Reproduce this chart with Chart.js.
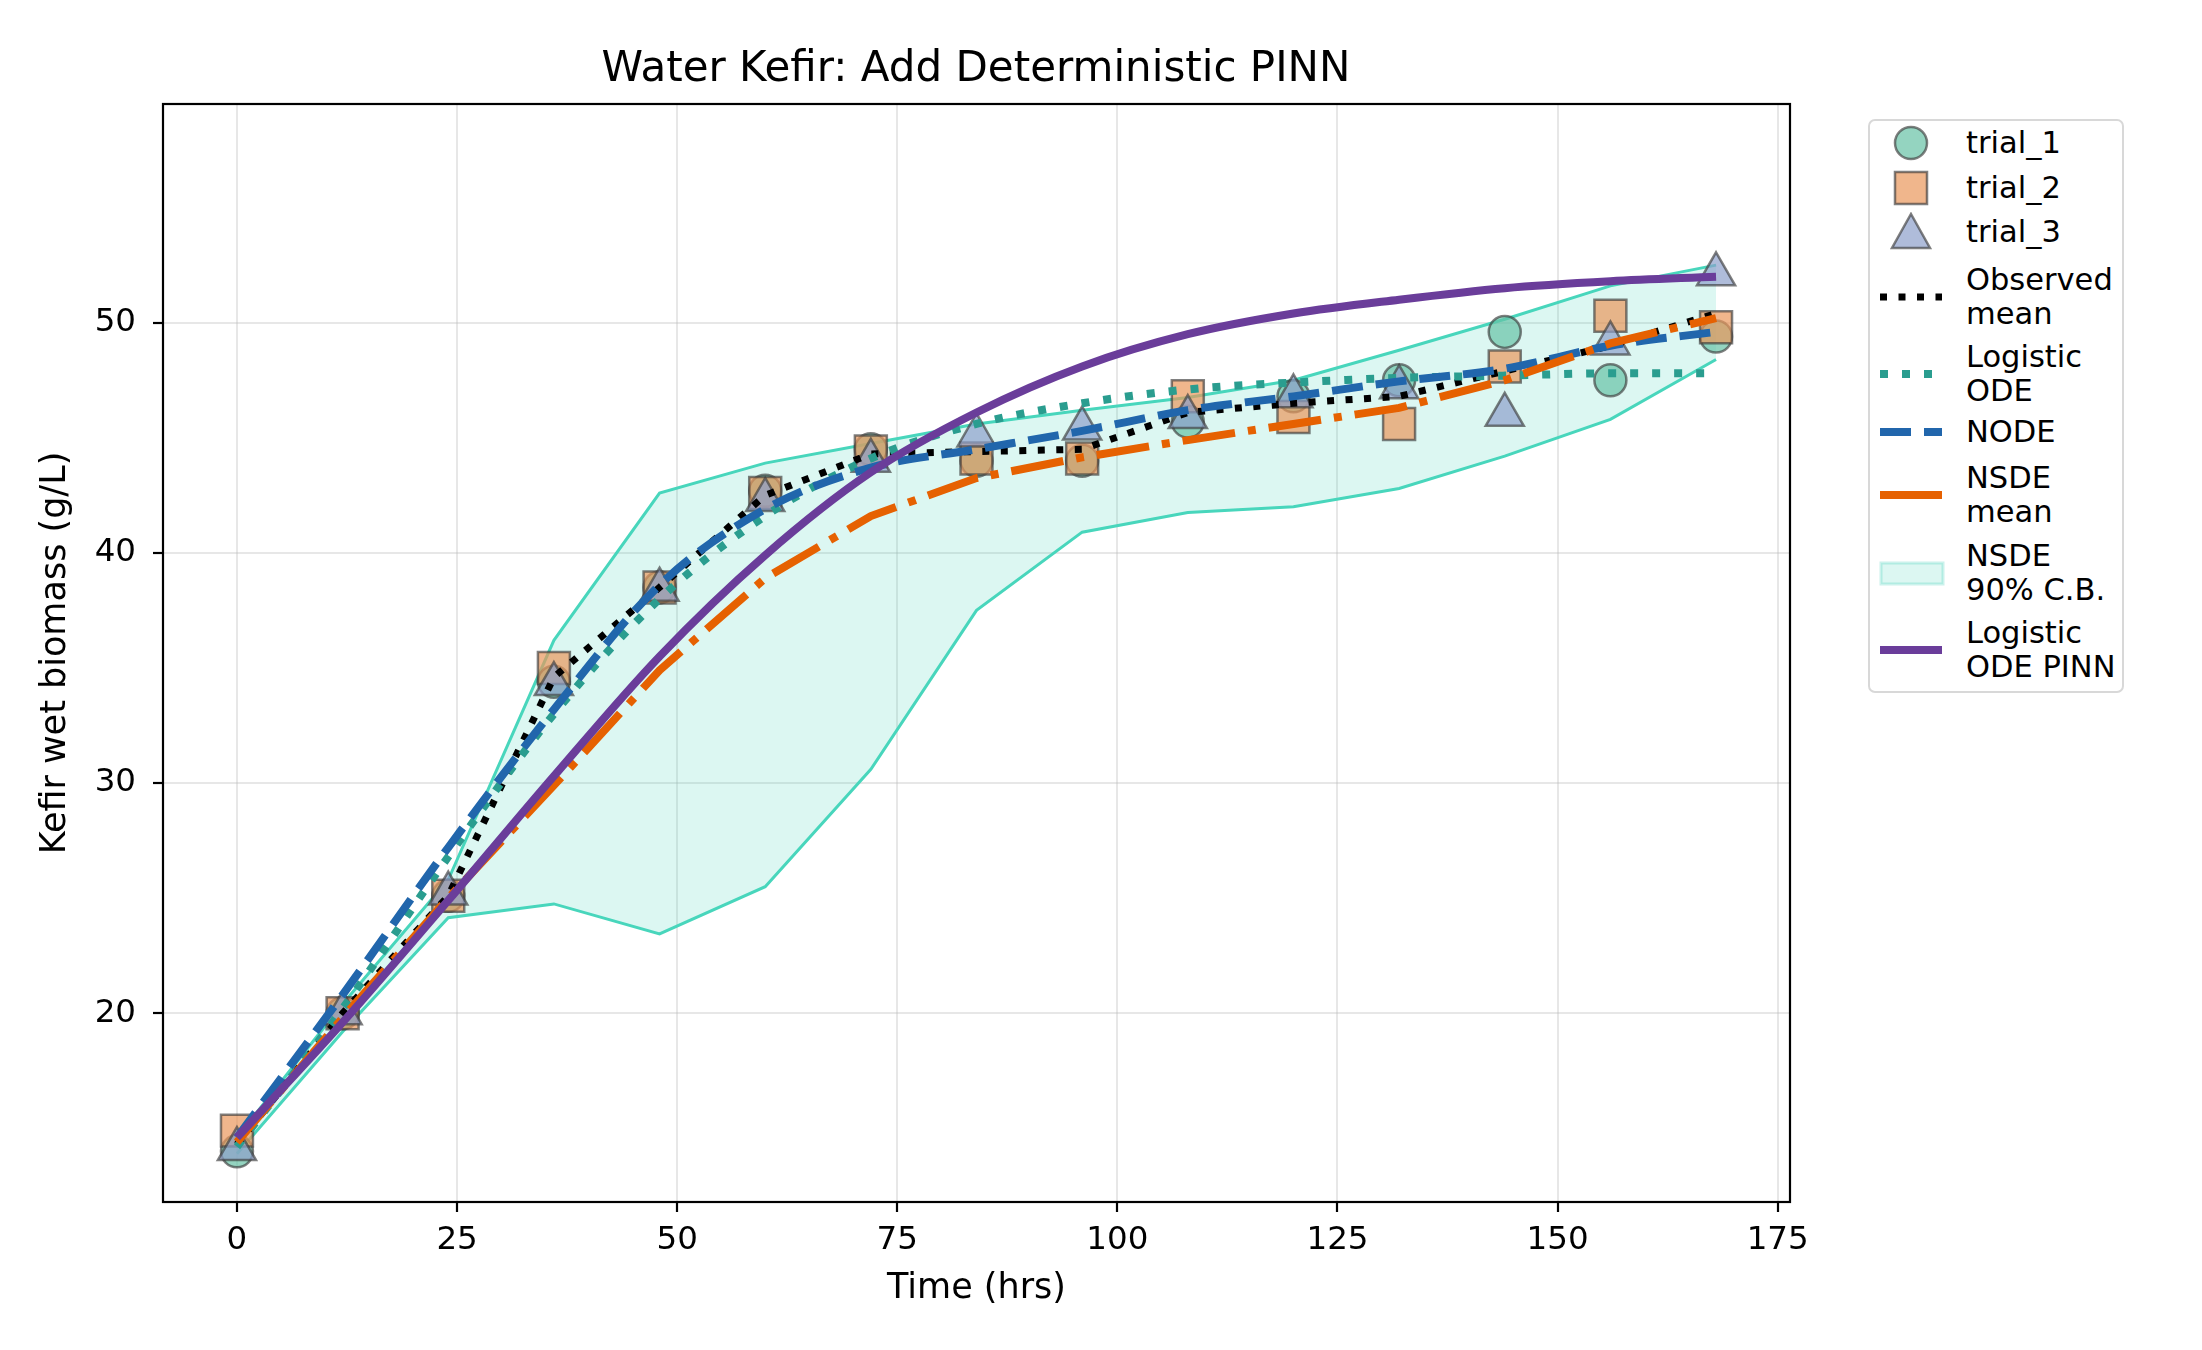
<!DOCTYPE html>
<html>
<head>
<meta charset="utf-8">
<title>Water Kefir: Add Deterministic PINN</title>
<script src="https://cdn.jsdelivr.net/npm/chart.js@4.4.1/dist/chart.umd.min.js"></script>
<style>
    body { margin: 0; background: #fff; }
    #wrap { position: relative; width: 2202px; height: 1350px; font-family: "DejaVu Sans", sans-serif; color: #000; }
    #chart { position: absolute; left: 0; top: 0; }
    #title { position: absolute; left: 0; width: 1952px; top: 42px; text-align: center; font-size: 42px; line-height: 50px; }
    #legend { position: absolute; left: 1868px; top: 119px; width: 256px; height: 574px; box-sizing: border-box;
              border: 2px solid #d8d8d8; border-radius: 7px; background: #fff; }
    .sym { position: absolute; left: 0; }
    .txt { position: absolute; left: 96px; font-size: 30.5px; line-height: 34px; white-space: nowrap; }
</style>
</head>
<body>
<div id="wrap">
    <canvas id="chart" width="2202" height="1350"></canvas>
    <div id="title">Water Kefir: Add Deterministic PINN</div>
    <div id="legend"></div>
</div>
<script>
// data
const times = [0, 12, 24, 36, 48, 60, 72, 84, 96, 108, 120, 132, 144, 156, 168];

const trial1 = [14.0, 20.0, 25.1, 34.4, 38.5, 42.7, 44.5, 44.0, 44.0, 45.7, 46.8, 47.5, 49.6, 47.5, 49.4];
const trial2 = [14.9, 20.0, 25.1, 35.0, 38.5, 42.6, 44.4, 44.1, 44.1, 46.8, 45.9, 45.6, 48.1, 50.3, 49.8];
const trial3 = [14.1, 20.0, 25.2, 34.3, 38.4, 42.3, 44.0, 45.1, 45.4, 45.9, 46.8, 47.2, 46.0, 49.1, 52.1];

const observedMean = [14.3, 20.0, 25.1, 34.6, 38.5, 42.5, 44.3, 44.4, 44.5, 46.1, 46.5, 46.8, 47.9, 49.0, 50.4];
const logisticOde = [14.2, 20.2, 26.8, 33.0, 38.0, 41.6, 44.1, 45.6, 46.5, 47.1, 47.4, 47.6, 47.7, 47.8, 47.8];
const nodeFit = [14.6, 20.8, 27.2, 33.2, 38.6, 41.9, 43.7, 44.5, 45.3, 46.2, 46.8, 47.45, 48.0, 49.0, 49.6];
const nsdeMean = [14.4, 19.8, 25.0, 29.9, 34.9, 38.9, 41.6, 43.25, 44.15, 44.9, 45.6, 46.3, 47.5, 49.1, 50.2];
const nsdeLower = [13.9, 19.2, 24.15, 24.75, 23.45, 25.5, 30.6, 37.5, 40.9, 41.75, 42.0, 42.8, 44.2, 45.8, 48.4];
const nsdeUpper = [14.6, 20.4, 25.8, 36.2, 42.6, 43.9, 44.75, 45.6, 46.2, 46.75, 47.5, 48.8, 50.15, 51.6, 52.5];
const pinnFit = [14.6, 19.6, 24.9, 30.3, 35.5, 39.9, 43.5, 46.1, 48.1, 49.5, 50.4, 51.0, 51.5, 51.8, 52.0];

const xTicks = [0, 25, 50, 75, 100, 125, 150, 175];
const yTicks = [20, 30, 40, 50];

// colours
const c1 = "rgba(102,194,165,0.7)";
const c2 = "rgba(234,151,91,0.7)";
const c3 = "rgba(141,160,203,0.7)";
const edge = "rgba(60,60,60,0.65)";
const bandFill = "rgba(48,205,178,0.17)";
const bandEdge = "rgb(72,214,188)";
const cObs = "#000000";
const cLog = "#2a9d8f";
const cNode = "#2166ac";
const cNsde = "#e66101";
const cPinn = "#6a3d9a";

const tickFont = { family: "DejaVu Sans", size: 32.5 };
const labelFont = { family: "DejaVu Sans", size: 35 };

function pts(arr) {
    return times.map((t, i) => ({ x: t, y: arr[i] }));
}

function markers(label, arr, style, radius, color, order) {
    return {
        label: label,
        data: pts(arr),
        showLine: false,
        pointStyle: style,
        pointRadius: radius,
        pointHoverRadius: radius,
        pointBackgroundColor: color,
        pointBorderColor: edge,
        pointBorderWidth: 2.5,
        order: order
    };
}

function curve(label, arr, color, width, dash, smooth, order) {
    return {
        label: label,
        data: pts(arr),
        borderColor: color,
        borderWidth: width,
        borderDash: dash,
        borderCapStyle: "butt",
        pointRadius: 0,
        fill: false,
        tension: 0,
        cubicInterpolationMode: smooth ? "monotone" : "default",
        order: order
    };
}

// frame around the plot like matplotlib spines
const framePlugin = {
    id: "frame",
    afterDatasetsDraw(chart) {
        const { ctx, chartArea: a } = chart;
        ctx.save();
        ctx.strokeStyle = "#000";
        ctx.lineWidth = 2.2;
        ctx.strokeRect(a.left, a.top, a.right - a.left, a.bottom - a.top);
        ctx.restore();
    }
};

const bandLow = curve("NSDE lower", nsdeLower, bandEdge, 3, [], false, 30);
const bandHigh = curve("NSDE 90% C.B.", nsdeUpper, bandEdge, 3, [], false, 30);
bandHigh.fill = "-1";
bandHigh.backgroundColor = bandFill;

const chart = new Chart(document.getElementById("chart"), {
    type: "line",
    data: {
        datasets: [
            markers("trial_1", trial1, "circle", 16, c1, 22),
            markers("trial_2", trial2, "rect", 22.6, c2, 21),
            markers("trial_3", trial3, "triangle", 22, c3, 20),
            bandLow,
            bandHigh,
            curve("Observed mean", observedMean, cObs, 7, [7, 11.5], false, 5),
            curve("Logistic ODE", logisticOde, cLog, 8, [8, 14], true, 4),
            curve("NODE", nodeFit, cNode, 8, [31, 13], true, 3),
            curve("NSDE mean", nsdeMean, cNsde, 8, [53, 13, 8, 13], false, 2),
            curve("Logistic ODE PINN", pinnFit, cPinn, 8, [], true, 1)
        ]
    },
    options: {
        responsive: false,
        devicePixelRatio: 1,
        animation: false,
        layout: { padding: { top: 104, right: 412, bottom: 0, left: 0 } },
        plugins: {
            legend: { display: false },
            title: { display: false },
            tooltip: { enabled: false }
        },
        scales: {
            x: {
                type: "linear",
                min: -8.4,
                max: 176.4,
                afterBuildTicks: (s) => { s.ticks = xTicks.map(v => ({ value: v })); },
                afterFit: (s) => { s.height = 148; },
                ticks: { font: tickFont, color: "#000", padding: 9, maxRotation: 0, autoSkip: false },
                grid: { color: "rgba(176,176,176,0.3)", lineWidth: 2, tickLength: 10, tickColor: "#000", tickWidth: 2.2 },
                border: { display: false },
                title: { display: true, text: "Time (hrs)", font: labelFont, color: "#000", padding: { top: 0, bottom: 40 } }
            },
            y: {
                type: "linear",
                min: 11.8,
                max: 59.5,
                afterBuildTicks: (s) => { s.ticks = yTicks.map(v => ({ value: v })); },
                afterFit: (s) => { s.width = 163; },
                ticks: { font: tickFont, color: "#000", padding: 17 },
                grid: { color: "rgba(176,176,176,0.3)", lineWidth: 2, tickLength: 10, tickColor: "#000", tickWidth: 2.2 },
                border: { display: false },
                title: { display: true, text: "Kefir wet biomass (g/L)", font: labelFont, color: "#000", padding: { top: 35, bottom: 0 } }
            }
        }
    },
    plugins: [framePlugin]
});

// legend (html, outside the axes)
function lineSym(color, width, dash) {
    return '<line x1="10" y1="20" x2="72" y2="20" stroke="' + color + '" stroke-width="' + width +
        '" stroke-dasharray="' + dash + '" />';
}

const legendItems = [
    { y: 22, text: ["trial_1"], sym: '<circle cx="41" cy="20" r="16" fill="' + c1 + '" stroke="' + edge + '" stroke-width="2.5"/>' },
    { y: 67, text: ["trial_2"], sym: '<rect x="25" y="4" width="32" height="32" fill="' + c2 + '" stroke="' + edge + '" stroke-width="2.5"/>' },
    { y: 111, text: ["trial_3"], sym: '<polygon points="41,2 60,36 22,36" fill="' + c3 + '" stroke="' + edge + '" stroke-width="2.5"/>' },
    { y: 176, text: ["Observed", "mean"], sym: lineSym(cObs, 7, "7 11.5") },
    { y: 253, text: ["Logistic", "ODE"], sym: lineSym(cLog, 8, "8 14") },
    { y: 311, text: ["NODE"], sym: lineSym(cNode, 8, "31 13") },
    { y: 374, text: ["NSDE", "mean"], sym: lineSym(cNsde, 8, "") },
    { y: 452, text: ["NSDE", "90% C.B."], sym: '<rect x="11" y="10" width="62" height="21" fill="' + bandFill + '" stroke="rgba(48,205,178,0.25)" stroke-width="3"/>' },
    { y: 529, text: ["Logistic", "ODE PINN"], sym: lineSym(cPinn, 8, "") }
];

const legend = document.getElementById("legend");
legendItems.forEach(function (item) {
    const svg = document.createElement("div");
    svg.className = "sym";
    svg.style.top = (item.y - 20) + "px";
    svg.innerHTML = '<svg width="90" height="40" xmlns="http://www.w3.org/2000/svg">' + item.sym + '</svg>';
    legend.appendChild(svg);

    const txt = document.createElement("div");
    txt.className = "txt";
    txt.style.top = (item.y - item.text.length * 17) + "px";
    txt.innerHTML = item.text.join("<br>");
    legend.appendChild(txt);
});
</script>
</body>
</html>
